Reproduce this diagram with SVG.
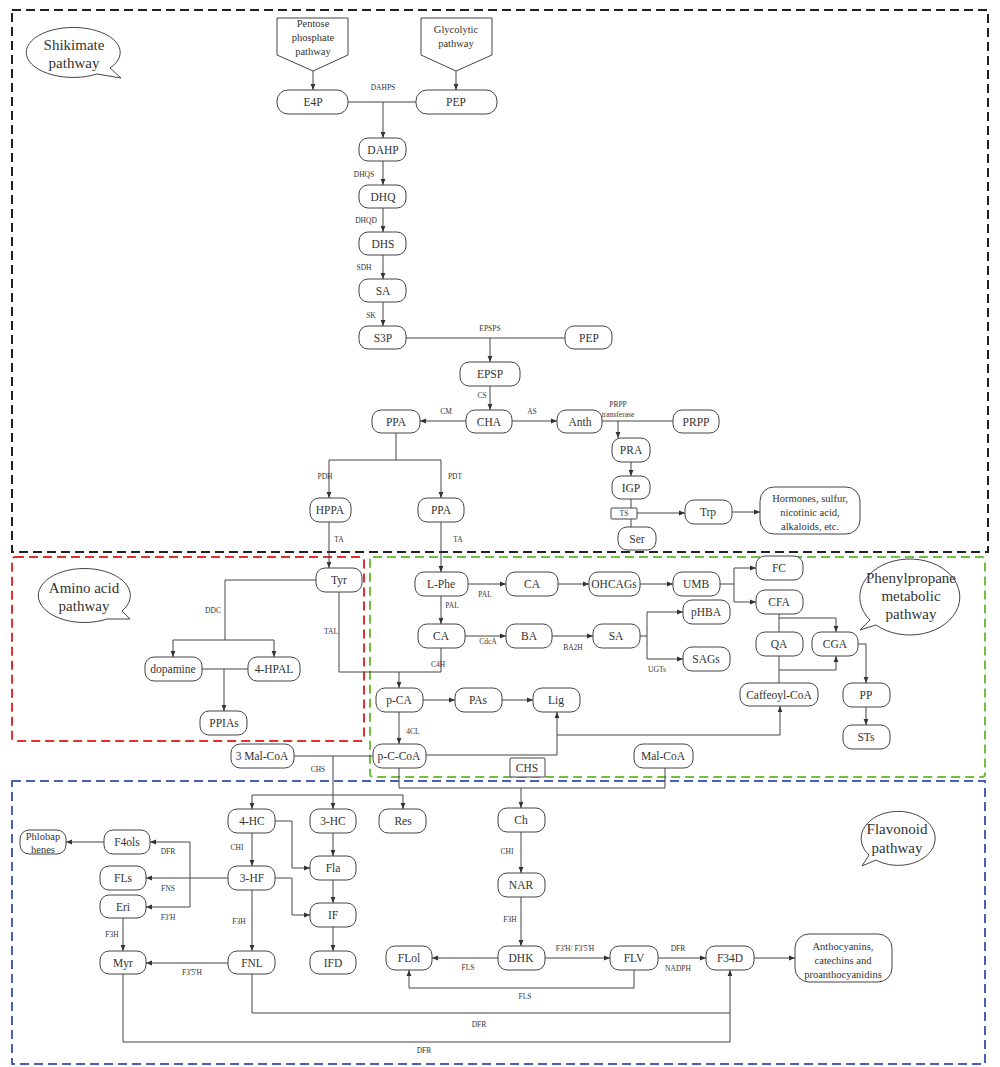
<svg xmlns="http://www.w3.org/2000/svg" width="1000" height="1067" viewBox="0 0 1000 1067">
<defs>
<marker id="a" viewBox="0 0 10 10" refX="10" refY="5" markerWidth="6" markerHeight="6" orient="auto"><path d="M0,1 L10,5 L0,9 z" fill="#333"/></marker>
<style>
.n rect,.n path{fill:#fff;stroke:#444;stroke-width:1}
.n text{font-family:"Liberation Serif",serif;font-size:11.5px;fill:#333;text-anchor:middle}
.n text.big{font-size:15px}
.n text.sm{font-size:10.5px}
.n text.xs{font-size:7.5px}
.e{font-family:"Liberation Serif",serif;font-size:7.5px;fill:#333;text-anchor:middle}
.c path{fill:none;stroke:#444;stroke-width:1}
.c .r{marker-end:url(#a)}
.reg{fill:none;stroke-width:2;stroke-dasharray:9,5}
</style>
</defs>
<rect fill="#fff" width="1000" height="1067"/>
<g id="regions">
<rect class="reg" x="12" y="10" width="976" height="542" stroke="#222"/>
<rect class="reg" x="12" y="557" width="352" height="184" rx="3" stroke="#e03030"/>
<rect class="reg" x="370" y="557" width="615" height="220" rx="3" stroke="#70c040"/>
<rect class="reg" x="12" y="781" width="973" height="283" stroke="#4a5fb8"/>
</g>
<g id="bubbles" class="n">
<g id="b-shik"><path d="M110,68 L121,78 L97,74 A47,25 0 1 1 110,68 Z"/><text class="big" x="74" y="50">Shikimate</text><text class="big" x="74" y="68">pathway</text></g>
<g id="b-amino"><path d="M122,611 L130,619 L107,619 A46,27 0 1 1 122,611 Z"/><text class="big" x="84" y="593">Amino acid</text><text class="big" x="84" y="611">pathway</text></g>
<g id="b-phen"><path d="M876,625 L860,630 L870,620 A50,38 0 1 1 876,625 Z"/><text class="big" x="911" y="583">Phenylpropane</text><text class="big" x="911" y="601">metabolic</text><text class="big" x="911" y="619">pathway</text></g>
<g id="b-flav"><path d="M876,860 L862,866 L869,855 A37,27 0 1 1 876,860 Z"/><text class="big" x="897" y="834">Flavonoid</text><text class="big" x="897" y="853">pathway</text></g>
</g>
<g id="connectors" class="c">
<path class="r" d="M313,71 V90"/><path class="r" d="M456,71 V90"/>
<path d="M348,102 H416"/><path class="r" d="M383,102 V138"/>
<path class="r" d="M383,161 V185"/><path class="r" d="M383,208 V232"/><path class="r" d="M383,255 V279"/><path class="r" d="M383,302 V326"/>
<path d="M406,338 H565"/><path class="r" d="M490,338 V362"/>
<path class="r" d="M490,386 V410"/>
<path class="r" d="M466,421 H420"/><path class="r" d="M512,421 H557"/>
<path d="M602,421 H673"/><path class="r" d="M618,421 V438"/>
<path class="r" d="M631,462 V476"/>
<path d="M631,499 V527"/><path class="r" d="M637,513 H685"/><path class="r" d="M732,512 H760"/>
<path d="M396,433 V460 M329,460 H441"/><path class="r" d="M329,460 V498"/><path class="r" d="M441,460 V498"/>
<path class="r" d="M329,522 V568"/><path class="r" d="M441,522 V572"/>
<path d="M316,580 H225 V640 M173,640 H274"/><path class="r" d="M173,640 V657"/><path class="r" d="M274,640 V657"/>
<path d="M202,669 H248"/><path class="r" d="M224,669 V711"/>
<path d="M339,592 V672 H441 V648"/><path class="r" d="M399,672 V688"/>
<path class="r" d="M423,700 H455"/><path class="r" d="M502,700 H533"/>
<path class="r" d="M399,712 V744"/>
<path d="M294,756 H373"/><path d="M333,756 V795 M252,795 H403"/>
<path class="r" d="M252,795 V809"/><path class="r" d="M333,795 V809"/><path class="r" d="M403,795 V809"/>
<path class="r" d="M426,755 H557 V712"/><path class="r" d="M557,735 H780 V706"/>
<path d="M399,768 V788 H665 V768"/><path class="r" d="M521,788 V808"/>
<path class="r" d="M468,584 H506"/><path class="r" d="M558,584 H589"/><path class="r" d="M640,584 H673"/>
<path d="M720,584 H734 V568"/><path class="r" d="M734,568 H756"/><path class="r" d="M734,584 V602 H756"/>
<path class="r" d="M441,596 V624"/>
<path class="r" d="M465,636 H506"/><path class="r" d="M552,636 H593"/>
<path d="M640,636 H647 V612"/><path class="r" d="M647,612 H683"/><path class="r" d="M647,636 V659 H683"/>
<path d="M779,614 V632"/><path class="r" d="M779,618 H836 V632"/>
<path d="M779,656 V683"/><path class="r" d="M779,670 H836 V656"/>
<path class="r" d="M858,644 H866 V683"/><path class="r" d="M866,707 V725"/>
<path class="r" d="M275,821 H292 V868 H310"/><path class="r" d="M333,833 V856"/><path class="r" d="M333,880 V903"/><path class="r" d="M333,927 V951"/>
<path class="r" d="M275,878 H292 V915 H310"/>
<path class="r" d="M252,833 V866"/><path class="r" d="M228,878 H146"/>
<path d="M190,878 V842"/><path class="r" d="M190,842 H150"/><path class="r" d="M190,878 V907 H146"/>
<path class="r" d="M104,842 H66"/><path class="r" d="M123,918 V951"/>
<path class="r" d="M252,890 V951"/><path class="r" d="M228,963 H146"/>
<path d="M252,974 V1013 H730"/><path d="M123,974 V1042 H730"/><path class="r" d="M730,1042 V970"/>
<path class="r" d="M521,832 V873"/><path class="r" d="M521,897 V946"/>
<path class="r" d="M498,958 H432"/><path class="r" d="M545,958 H610"/><path class="r" d="M658,958 H706"/><path class="r" d="M754,958 H795"/>
<path class="r" d="M634,970 V988 H409 V970"/>
</g>
<g id="labels">
<text class="e" x="383" y="90">DAHPS</text><text class="e" x="364" y="177">DHQS</text><text class="e" x="366" y="223">DHQD</text><text class="e" x="364" y="270">SDH</text><text class="e" x="371" y="318">SK</text>
<text class="e" x="490" y="331">EPSPS</text><text class="e" x="482" y="398">CS</text><text class="e" x="446" y="414">CM</text><text class="e" x="532" y="414">AS</text>
<text class="e" x="618" y="407">PRPP</text><text class="e" x="618" y="417">transferase</text>
<text class="e" x="325" y="479">PDH</text><text class="e" x="455" y="479">PDT</text><text class="e" x="339" y="542">TA</text><text class="e" x="458" y="542">TA</text>
<text class="e" x="213" y="613">DDC</text><text class="e" x="331" y="634">TAL</text><text class="e" x="438" y="667">C4H</text><text class="e" x="413" y="734">4CL</text><text class="e" x="318" y="772">CHS</text>
<text class="e" x="485" y="597">PAL</text><text class="e" x="452" y="608">PAL</text><text class="e" x="488" y="644">CdcA</text><text class="e" x="573" y="650">BA2H</text><text class="e" x="657" y="672">UGTs</text>
<text class="e" x="237" y="850">CHI</text><text class="e" x="168" y="854">DFR</text><text class="e" x="168" y="891">FNS</text><text class="e" x="168" y="920">F3'H</text><text class="e" x="112" y="937">F3H</text><text class="e" x="239" y="924">F3H</text><text class="e" x="192" y="975">F3'5'H</text>
<text class="e" x="479" y="1027">DFR</text><text class="e" x="424" y="1053">DFR</text>
<text class="e" x="507" y="854">CHI</text><text class="e" x="510" y="922">F3H</text><text class="e" x="468" y="970">FLS</text><text class="e" x="575" y="951">F3'H/ F3'5'H</text>
<text class="e" x="678" y="951">DFR</text><text class="e" x="678" y="971">NADPH</text><text class="e" x="525" y="999">FLS</text>
</g>
<g class="n">
<g id="pentose"><path d="M277,18 H348 V55 L313,71 L277,55 Z"/><text class="sm" x="313" y="27">Pentose</text><text class="sm" x="313" y="41">phosphate</text><text class="sm" x="313" y="55">pathway</text></g>
<g id="glyco"><path d="M421,18 H492 V55 L456,71 L421,55 Z"/><text class="sm" x="456" y="33">Glycolytic</text><text class="sm" x="456" y="47">pathway</text></g>
<g id="E4P"><rect x="277" y="90" width="71" height="24" rx="11"/><text x="313" y="106">E4P</text></g>
<g id="PEP"><rect x="416" y="90" width="81" height="24" rx="11"/><text x="456" y="106">PEP</text></g>
<g id="DAHP"><rect x="359" y="138" width="47" height="23" rx="9"/><text x="383" y="154">DAHP</text></g>
<g id="DHQ"><rect x="359" y="185" width="47" height="23" rx="9"/><text x="383" y="201">DHQ</text></g>
<g id="DHS"><rect x="359" y="232" width="47" height="23" rx="9"/><text x="383" y="248">DHS</text></g>
<g id="SA"><rect x="359" y="279" width="47" height="23" rx="9"/><text x="383" y="295">SA</text></g>
<g id="S3P"><rect x="359" y="326" width="47" height="23" rx="9"/><text x="383" y="342">S3P</text></g>
<g id="PEP2"><rect x="565" y="326" width="47" height="23" rx="9"/><text x="589" y="342">PEP</text></g>
<g id="EPSP"><rect x="460" y="362" width="60" height="24" rx="9"/><text x="490" y="378">EPSP</text></g>
<g id="CHA"><rect x="466" y="410" width="46" height="23" rx="9"/><text x="489" y="426">CHA</text></g>
<g id="PPA1"><rect x="372" y="410" width="48" height="23" rx="9"/><text x="396" y="426">PPA</text></g>
<g id="Anth"><rect x="557" y="410" width="45" height="23" rx="9"/><text x="580" y="426">Anth</text></g>
<g id="PRPP"><rect x="673" y="410" width="46" height="23" rx="9"/><text x="696" y="426">PRPP</text></g>
<g id="PRA"><rect x="612" y="438" width="38" height="24" rx="9"/><text x="631" y="454">PRA</text></g>
<g id="IGP"><rect x="612" y="476" width="38" height="23" rx="9"/><text x="631" y="492">IGP</text></g>
<g id="TS"><rect x="611" y="508" width="26" height="11" rx="1"/><text class="xs" x="624" y="516">TS</text></g>
<g id="Ser"><rect x="618" y="527" width="38" height="23" rx="9"/><text x="637" y="543">Ser</text></g>
<g id="Trp"><rect x="685" y="500" width="47" height="24" rx="9"/><text x="708" y="516">Trp</text></g>
<g id="Hormones"><rect x="760" y="487" width="100" height="47" rx="14"/><text class="sm" x="810" y="502">Hormones, sulfur,</text><text class="sm" x="810" y="516">nicotinic acid,</text><text class="sm" x="810" y="530">alkaloids, etc.</text></g>
<g id="HPPA"><rect x="310" y="498" width="41" height="24" rx="9"/><text x="330" y="514">HPPA</text></g>
<g id="PPA2"><rect x="418" y="498" width="46" height="24" rx="9"/><text x="441" y="514">PPA</text></g>
<g id="Tyr"><rect x="316" y="568" width="46" height="24" rx="9"/><text x="339" y="584">Tyr</text></g>
<g id="dopamine"><rect x="145" y="657" width="57" height="24" rx="9"/><text x="173" y="673">dopamine</text></g>
<g id="HPAL"><rect x="248" y="657" width="52" height="24" rx="9"/><text x="274" y="673">4-HPAL</text></g>
<g id="PPIAs"><rect x="200" y="711" width="47" height="24" rx="9"/><text x="224" y="727">PPIAs</text></g>
<g id="LPhe"><rect x="415" y="572" width="53" height="24" rx="9"/><text x="441" y="588">L-Phe</text></g>
<g id="CA1"><rect x="418" y="624" width="47" height="24" rx="9"/><text x="441" y="640">CA</text></g>
<g id="pCA"><rect x="376" y="688" width="47" height="24" rx="9"/><text x="399" y="704">p-CA</text></g>
<g id="PAs"><rect x="455" y="688" width="47" height="24" rx="9"/><text x="478" y="704">PAs</text></g>
<g id="Lig"><rect x="533" y="688" width="47" height="24" rx="9"/><text x="556" y="704">Lig</text></g>
<g id="pCCoA"><rect x="373" y="744" width="53" height="24" rx="9"/><text x="399" y="760">p-C-CoA</text></g>
<g id="MalCoA3"><rect x="231" y="744" width="63" height="24" rx="9"/><text x="262" y="760">3 Mal-CoA</text></g>
<g id="CHS"><rect x="510" y="758" width="35" height="19" rx="1"/><text x="527" y="772">CHS</text></g>
<g id="MalCoA"><rect x="634" y="744" width="59" height="24" rx="9"/><text x="663" y="760">Mal-CoA</text></g>
<g id="CA2"><rect x="506" y="572" width="52" height="24" rx="9"/><text x="532" y="588">CA</text></g>
<g id="OHCAGs"><rect x="589" y="572" width="51" height="24" rx="9"/><text x="614" y="588">OHCAGs</text></g>
<g id="UMB"><rect x="673" y="572" width="47" height="24" rx="9"/><text x="696" y="588">UMB</text></g>
<g id="FC"><rect x="756" y="556" width="47" height="24" rx="9"/><text x="779" y="572">FC</text></g>
<g id="CFA"><rect x="756" y="590" width="47" height="24" rx="9"/><text x="779" y="606">CFA</text></g>
<g id="BA"><rect x="506" y="624" width="46" height="24" rx="9"/><text x="529" y="640">BA</text></g>
<g id="SA2"><rect x="593" y="624" width="47" height="24" rx="9"/><text x="616" y="640">SA</text></g>
<g id="pHBA"><rect x="683" y="600" width="47" height="24" rx="9"/><text x="706" y="616">pHBA</text></g>
<g id="SAGs"><rect x="683" y="647" width="47" height="24" rx="9"/><text x="706" y="663">SAGs</text></g>
<g id="QA"><rect x="756" y="632" width="47" height="24" rx="9"/><text x="779" y="648">QA</text></g>
<g id="CGA"><rect x="812" y="632" width="46" height="24" rx="9"/><text x="835" y="648">CGA</text></g>
<g id="CaffCoA"><rect x="740" y="683" width="78" height="23" rx="9"/><text x="779" y="699">Caffeoyl-CoA</text></g>
<g id="PP"><rect x="843" y="683" width="47" height="24" rx="9"/><text x="866" y="699">PP</text></g>
<g id="STs"><rect x="843" y="725" width="47" height="24" rx="9"/><text x="866" y="741">STs</text></g>
<g id="HC4"><rect x="228" y="809" width="47" height="24" rx="9"/><text x="252" y="825">4-HC</text></g>
<g id="HC3"><rect x="310" y="809" width="46" height="24" rx="9"/><text x="333" y="825">3-HC</text></g>
<g id="Res"><rect x="379" y="809" width="47" height="24" rx="9"/><text x="403" y="825">Res</text></g>
<g id="HF3"><rect x="228" y="866" width="47" height="24" rx="9"/><text x="252" y="882">3-HF</text></g>
<g id="Fla"><rect x="310" y="856" width="46" height="24" rx="9"/><text x="333" y="872">Fla</text></g>
<g id="IF"><rect x="310" y="903" width="46" height="24" rx="9"/><text x="333" y="919">IF</text></g>
<g id="IFD"><rect x="310" y="951" width="46" height="23" rx="9"/><text x="333" y="967">IFD</text></g>
<g id="FNL"><rect x="228" y="951" width="47" height="23" rx="9"/><text x="252" y="967">FNL</text></g>
<g id="Myr"><rect x="100" y="951" width="46" height="23" rx="9"/><text x="123" y="967">Myr</text></g>
<g id="Eri"><rect x="100" y="895" width="46" height="23" rx="9"/><text x="123" y="911">Eri</text></g>
<g id="FLs"><rect x="100" y="866" width="46" height="24" rx="9"/><text x="123" y="882">FLs</text></g>
<g id="F4ols"><rect x="104" y="830" width="46" height="24" rx="9"/><text x="127" y="846">F4ols</text></g>
<g id="Phlob"><rect x="20" y="830" width="46" height="24" rx="9"/><text class="sm" x="43" y="840">Phlobap</text><text class="sm" x="43" y="853">henes</text></g>
<g id="Ch"><rect x="498" y="808" width="47" height="24" rx="9"/><text x="521" y="824">Ch</text></g>
<g id="NAR"><rect x="498" y="873" width="47" height="24" rx="9"/><text x="521" y="889">NAR</text></g>
<g id="DHK"><rect x="498" y="946" width="47" height="24" rx="9"/><text x="521" y="962">DHK</text></g>
<g id="FLol"><rect x="386" y="946" width="46" height="24" rx="9"/><text x="409" y="962">FLol</text></g>
<g id="FLV"><rect x="610" y="946" width="48" height="24" rx="9"/><text x="634" y="962">FLV</text></g>
<g id="F34D"><rect x="706" y="946" width="48" height="24" rx="9"/><text x="730" y="962">F34D</text></g>
<g id="Antho"><rect x="795" y="934" width="97" height="48" rx="14"/><text class="sm" x="843" y="950">Anthocyanins,</text><text class="sm" x="843" y="964">catechins and</text><text class="sm" x="843" y="978">proanthocyanidins</text></g>
</g>
</svg>
